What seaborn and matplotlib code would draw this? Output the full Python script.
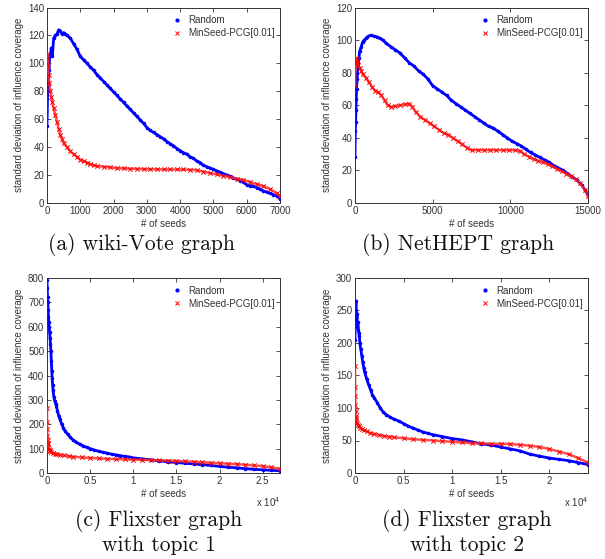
import numpy as np
import pandas as pd
import matplotlib
matplotlib.use("Agg")
import matplotlib.pyplot as plt
import seaborn as sns
from matplotlib.ticker import FuncFormatter
from matplotlib.lines import Line2D

# ---------------- data ----------------
# (a) wiki-Vote
a_rand_x = [0, 20, 40, 60, 80, 100, 130, 160, 200, 250, 300, 350, 400, 450, 500, 550, 600, 700, 800, 900,
            1000, 1100, 1200, 1300, 1400, 1500, 1600, 1700, 1800, 1900, 2000, 2100, 2200, 2300, 2400, 2500,
            2600, 2700, 2800, 2900, 3000, 3100, 3200, 3300, 3400, 3500, 3600, 3700, 3800, 3900, 4000, 4100,
            4200, 4300, 4400, 4500, 4600, 4700, 4800, 4900, 5000, 5100, 5200, 5300, 5400, 5500, 5600, 5700,
            5800, 5900, 6000, 6100, 6200, 6300, 6400, 6500, 6600, 6700, 6800, 6900, 7000]
a_rand_y = [55, 80, 85, 95, 105, 106, 111, 105, 118, 120, 121, 124, 123, 121, 122, 121, 120, 118, 114, 110,
            105, 102.5, 100, 97.5, 95, 92, 89.5, 87, 84.5, 82, 79.5, 77, 74.5, 72, 69.5, 67,
            64.5, 62, 59.5, 57, 54, 52, 50.5, 49, 47.5, 46, 44, 42.5, 41, 39, 37.5, 36,
            35, 33, 32, 30, 29, 27, 26, 25, 24, 23, 22, 21, 20, 19, 18, 17,
            16, 15, 13, 12.5, 12, 11, 10, 8.5, 8, 7, 6, 5, 3]
a_pcg_x = [0, 15, 30, 50, 70, 100, 130, 160, 200, 250, 300, 350, 400, 450, 500, 600, 700, 800, 900, 1000,
           1100, 1200, 1300, 1400, 1500, 1700, 1900, 2100, 2300, 2500, 2700, 2900, 3100, 3300, 3500, 3700,
           3900, 4100, 4300, 4500, 4700, 4900, 5100, 5300, 5500, 5700, 5900, 6100, 6300, 6500, 6700, 6900, 7000]
a_pcg_y = [107, 104, 99, 92, 86, 80, 76, 72, 68, 63, 58, 53, 49, 46, 43, 40, 37, 35, 33, 31,
           30, 29, 28, 27, 26.5, 26, 25.5, 25, 24.8, 24.6, 24.5, 24.3, 24.2, 24.1, 24, 24,
           24, 24, 23.8, 23.5, 22.5, 21.5, 20.5, 19.5, 18.5, 17.5, 16.5, 15, 13.5, 12, 10, 7, 5]

# (b) NetHEPT
b_rand_x = [0, 20, 40, 60, 80, 100, 130, 160, 200, 250, 300, 400, 500, 600, 700, 800, 1000, 1200, 1400, 1600,
            1800, 2000, 2300, 2600, 2900, 3200, 3500, 3800, 4100, 4400, 4700, 5000, 5300, 5600, 5900, 6200,
            6500, 6800, 7100, 7400, 7700, 8000, 8300, 8600, 8900, 9200, 9500, 9800, 10100, 10400, 10700,
            11000, 11300, 11600, 11900, 12200, 12500, 12800, 13100, 13400, 13700, 14000, 14300, 14600,
            14800, 15000]
b_rand_y = [28, 44, 50, 57, 64, 70, 76, 80, 86, 89, 93, 96, 99, 100, 101, 102, 103, 102.5, 102, 101,
            100, 98, 96, 94, 92, 89, 86, 84, 81, 79, 76, 72, 70, 68, 66, 63,
            61, 59, 57, 55, 53, 51, 49, 47, 46, 44, 42, 40, 38, 36.5, 35,
            33, 31, 29.5, 28, 26.5, 25, 23, 21.5, 20, 18, 16, 14, 11,
            8, 5]
b_pcg_x = [0, 30, 60, 100, 150, 200, 300, 400, 500, 700, 900, 1100, 1300, 1500, 1700, 1900, 2100, 2300,
           2600, 2900, 3200, 3500, 3700, 3900, 4200, 4500, 4800, 5100, 5400, 5700, 6000, 6300, 6600, 6900,
           7200, 7500, 7900, 8300, 8700, 9100, 9500, 9900, 10300, 10600, 10900, 11200, 11500, 11800, 12100,
           12400, 12700, 13000, 13300, 13600, 13900, 14200, 14500, 14800, 15000]
b_pcg_y = [72, 86, 89, 88, 86, 85, 83, 81, 79, 77, 74, 71, 69, 68, 66, 63, 60, 59,
           59.5, 60, 60.5, 61, 59, 56, 53, 51, 49, 47, 45, 43, 42, 40, 38, 36,
           34, 32.5, 32.5, 32.5, 32.5, 32.5, 32.5, 32.5, 32.5, 32, 30, 28.5, 27, 26, 25,
           24, 22.5, 21, 19.5, 18, 16.5, 14.5, 12, 8, 4]

# (c) Flixster topic 1
c_rand_x = [0, 30, 60, 100, 130, 160, 200, 250, 300, 350, 400, 450, 500, 550, 600, 650, 700, 800, 900, 1000,
            1100, 1200, 1350, 1500, 1700, 1900, 2100, 2400, 2700, 3000, 3400, 3800, 4200, 4600, 5000, 5500,
            6000, 6500, 7000, 7500, 8000, 8500, 9000, 9500, 10000, 11000, 12000, 13000, 14000, 15000, 16000,
            17000, 18000, 19000, 20000, 21000, 22000, 23000, 24000, 25000, 26000, 27000]
c_rand_y = [790, 760, 720, 700, 670, 640, 620, 600, 580, 555, 530, 500, 460, 420, 390, 360, 340, 310, 295, 285,
            275, 255, 235, 220, 200, 185, 172, 158, 146, 136, 126, 118, 111, 105, 100, 94,
            89, 85, 81, 77, 74, 71, 68, 66, 62, 58, 54, 50, 46, 43, 40,
            37, 34, 31, 27, 24, 21, 18, 15, 13, 11, 9]
c_pcg_x = [0, 10, 20, 40, 60, 80, 100, 150, 200, 300, 400, 500, 700, 900, 1200, 1500, 2000, 2500, 3000,
           4000, 5000, 6000, 7000, 8000, 9000, 10000, 11000, 12000, 13000, 14000, 15000, 16000, 17000,
           18000, 19000, 20000, 21000, 22000, 23000, 24000, 25000, 26000, 27000]
c_pcg_y = [265, 210, 180, 150, 135, 125, 118, 108, 100, 93, 89, 86, 82, 80, 77, 75, 72, 69, 67,
           64, 62, 60, 58, 57, 56, 55, 54, 53, 52, 51, 49, 48, 46,
           44, 42, 40, 38, 36, 34, 31, 28, 23, 17]

# (d) Flixster topic 2
d_rand_x = [0, 30, 60, 100, 130, 160, 200, 250, 300, 350, 400, 450, 500, 600, 700, 800, 900, 1000, 1200,
            1400, 1600, 1800, 2000, 2300, 2600, 2900, 3200, 3600, 4000, 4500, 5000, 5500, 6000, 6500, 7000,
            7500, 8000, 9000, 10000, 11000, 12000, 13000, 14000, 15000, 16000, 17000, 18000, 19000, 20000,
            21000, 22000, 23000, 24000]
d_rand_y = [205, 235, 250, 265, 240, 228, 245, 225, 232, 220, 215, 210, 200, 190, 180, 170, 162, 155, 145,
            136, 128, 120, 115, 108, 100, 94, 90, 86, 83, 80, 76, 72, 69, 66, 63,
            61, 59, 56, 53, 51, 48, 45, 43, 40, 37, 34, 29, 26, 23,
            21, 19, 16, 13]
d_pcg_x = [0, 10, 20, 40, 60, 80, 100, 150, 200, 300, 400, 500, 700, 900, 1200, 1500, 2000, 2500, 3000,
           3500, 4000, 5000, 6000, 7000, 8000, 9000, 10000, 11000, 12000, 13000, 14000, 15000, 16000,
           17000, 18000, 19000, 20000, 21000, 22000, 23000, 24000]
d_pcg_y = [165, 133, 118, 105, 95, 88, 84, 80, 77, 74, 72, 70, 68, 66, 64, 62, 60, 58.5, 57,
           56, 55, 53.5, 52, 51, 50, 49, 48, 47, 46, 45.5, 45, 45, 44.5,
           43.5, 42, 40, 37, 33, 29, 23, 16]

series_labels = ["Random", "MinSeed-PCG[0.01]"]
captions = {"a": ["(a) wiki-Vote graph"], "b": ["(b) NetHEPT graph"],
            "c": ["(c) Flixster graph", "with topic 1"], "d": ["(d) Flixster graph", "with topic 2"]}

# ---------------- style ----------------
sns.set_style("ticks")
plt.rcParams["font.family"] = ["Liberation Sans", "DejaVu Sans"]
plt.rcParams["mathtext.default"] = "regular"

W, H = 605, 559
fig = plt.figure(figsize=(W / 100, H / 100), dpi=100)

def px_axes(l, t, r, b):
    return [l / W, 1 - b / H, (r - l) / W, (b - t) / H]

panels = {
    "a": dict(pos=px_axes(47, 7.5, 280, 203), rx=a_rand_x, ry=a_rand_y, px=a_pcg_x, py=a_pcg_y,
              xlim=7000, ylim=140, xt=np.arange(0, 7001, 1000), yt=np.arange(0, 141, 20), sci=False),
    "b": dict(pos=px_axes(355, 7.5, 588, 203), rx=b_rand_x, ry=b_rand_y, px=b_pcg_x, py=b_pcg_y,
              xlim=15000, ylim=120, xt=np.arange(0, 15001, 5000), yt=np.arange(0, 121, 20), sci=False),
    "c": dict(pos=px_axes(47, 278, 280, 473), rx=c_rand_x, ry=c_rand_y, px=c_pcg_x, py=c_pcg_y,
              xlim=27000, ylim=800, xt=np.arange(0, 25001, 5000), yt=np.arange(0, 801, 100), sci=True),
    "d": dict(pos=px_axes(355, 278, 588, 473), rx=d_rand_x, ry=d_rand_y, px=d_pcg_x, py=d_pcg_y,
              xlim=24000, ylim=300, xt=np.arange(0, 20001, 5000), yt=np.arange(0, 301, 50), sci=True),
}

blue = "#0000ff"
red = "#ff0000"
fs = 7
txtc = "#333333"

for key, p in panels.items():
    ax = fig.add_axes(p["pos"])
    dr = pd.DataFrame({"x": p["rx"], "y": p["ry"]})
    dp = pd.DataFrame({"x": p["px"], "y": p["py"]})
    # dense band of markers (the reference plots hundreds of overlapping points)
    sns.lineplot(data=dr, x="x", y="y", ax=ax, color=blue, linewidth=2.0, sort=False,
                 estimator=None, legend=False, zorder=2)
    sns.scatterplot(data=dr, x="x", y="y", ax=ax, marker=".", color=blue, s=26, linewidth=0,
                    legend=False, zorder=3)
    sns.lineplot(data=dp, x="x", y="y", ax=ax, color="#ff3030", linewidth=1.8, sort=False,
                 estimator=None, legend=False, zorder=4, alpha=0.85)
    sns.scatterplot(data=dp, x="x", y="y", ax=ax, marker="x", color=red, s=10, linewidth=0.7,
                    legend=False, zorder=5)
    ax.set_xlim(0, p["xlim"])
    ax.set_ylim(0, p["ylim"])
    ax.set_xticks(p["xt"])
    ax.set_yticks(p["yt"])
    if p["sci"]:
        ax.xaxis.set_major_formatter(FuncFormatter(lambda v, pos: f"{v/1e4:g}"))
        ax.text(1.0, -0.115, "x 10$^4$", transform=ax.transAxes, fontsize=fs, color=txtc,
                ha="right", va="top")
    ax.tick_params(direction="in", length=3, width=0.6, top=True, right=True,
                   labelsize=fs, labelcolor=txtc, color="#333333", pad=2)
    for s in ax.spines.values():
        s.set_linewidth(0.7)
        s.set_color("#333333")
        s.set_visible(True)
    ax.set_xlabel("# of seeds", fontsize=fs, color=txtc, labelpad=2)
    ax.set_ylabel("standard deviation of influence coverage", fontsize=fs, color=txtc)
    ax.yaxis.set_label_coords(-0.1, 0.5)
    handles = [Line2D([], [], marker=".", color=blue, linestyle="none", markersize=4),
               Line2D([], [], marker="x", color=red, linestyle="none", markersize=2.5, markeredgewidth=0.7)]
    ax.legend(handles, series_labels, loc="upper right", bbox_to_anchor=(1.0, 0.985), frameon=False,
              fontsize=fs, handlelength=1.2, handletextpad=0.6, labelspacing=0.3, borderaxespad=0.1,
              labelcolor=txtc)

cap_pos = {"a": (141, [245]), "b": (458, [245]), "c": (159, [521, 545]), "d": (467, [521, 545])}
for key, (cx, ys) in cap_pos.items():
    for line, yy in zip(captions[key], ys):
        fig.text(cx / W, 1 - yy / H, line, fontsize=15.5, family="cmr10", ha="center", va="center",
                 color="#111111")

fig.savefig("out.png", dpi=100)
